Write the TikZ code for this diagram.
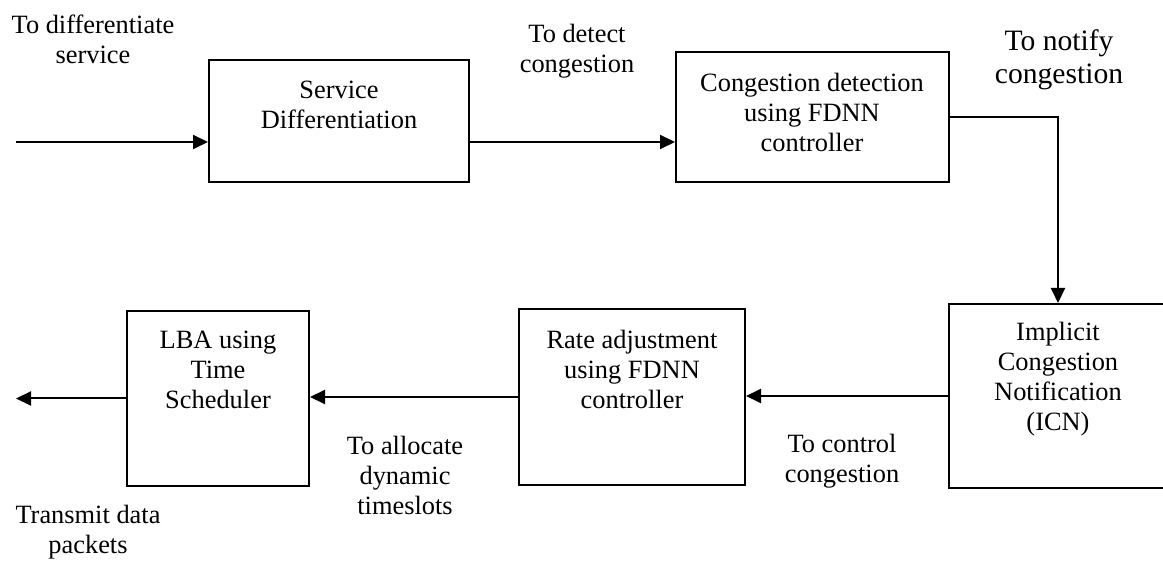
\documentclass[tikz,border=0pt]{standalone}
\usepackage{fontspec}
\setmainfont{Liberation Serif}
\usetikzlibrary{arrows.meta}
\tikzset{
  box/.style={draw=black, line width=1pt, rectangle, inner sep=0pt},
  lbl/.style={align=center, inner sep=0pt, font=\fontsize{13.2}{15}\selectfont},
  biglbl/.style={align=center, inner sep=0pt, font=\fontsize{14.8}{16.5}\selectfont},
  arr/.style={line width=1pt, -{Triangle[length=7.5pt,width=7pt]}},
  conn/.style={line width=1pt}
}
\begin{document}
\begin{tikzpicture}[x=0.5pt,y=-0.5pt]
\useasboundingbox (0,0) rectangle (1163,561);
\begin{scope}
\clip (0,0) rectangle (1163,561);
% boxes
\node[box, minimum width=130pt, minimum height=61pt] (sd) at (339,121) {};
\node[box, minimum width=136.5pt, minimum height=65pt] (cd) at (812.5,117) {};
\node[box, minimum width=109pt, minimum height=92pt] (icn) at (1058,396) {};
\node[box, minimum width=113pt, minimum height=88pt] (ra) at (632,397) {};
\node[box, minimum width=91pt, minimum height=87.5pt] (lba) at (218,398.5) {};
\end{scope}
% box texts
\node[lbl] (sdt) at (339,105) {Service\\Differentiation};
\node[lbl] (cdt) at (812,112) {Congestion detection\\using FDNN\\controller};
\node[lbl] (icnt) at (1058,379) {Implicit\\Congestion\\Notification\\(ICN)};
\node[lbl] (rat) at (632,369) {Rate adjustment\\using FDNN\\controller};
\node[lbl] (lbat) at (218,370) {LBA using\\Time\\Scheduler};
% connector labels
\node[lbl] (l1) at (93,39) {To differentiate\\service};
\node[lbl] (l2) at (577,51) {To detect\\congestion};
\node[biglbl] (l3) at (1059,60) {To notify\\congestion};
\node[lbl] (l4) at (842,461) {To control\\congestion};
\node[lbl] (l5) at (405,475) {To allocate\\dynamic\\timeslots};
\node[lbl] (l6) at (88,532) {Transmit data\\packets};
% connectors
\coordinate (in) at (16,142);
\coordinate (out) at (16,398);
\draw[arr] (in) -- (in -| sd.west);
\draw[arr] (sd.east |- in) -- (cd.west |- in);
\draw[arr] (cd.east) -| (icn.north);
\draw[arr] (icn.west) -- (icn.west -| ra.east);
\draw[arr] (ra.west) -- (ra.west -| lba.east);
\draw[arr] (lba.west) -- (out |- lba.west);
\end{tikzpicture}
\end{document}
